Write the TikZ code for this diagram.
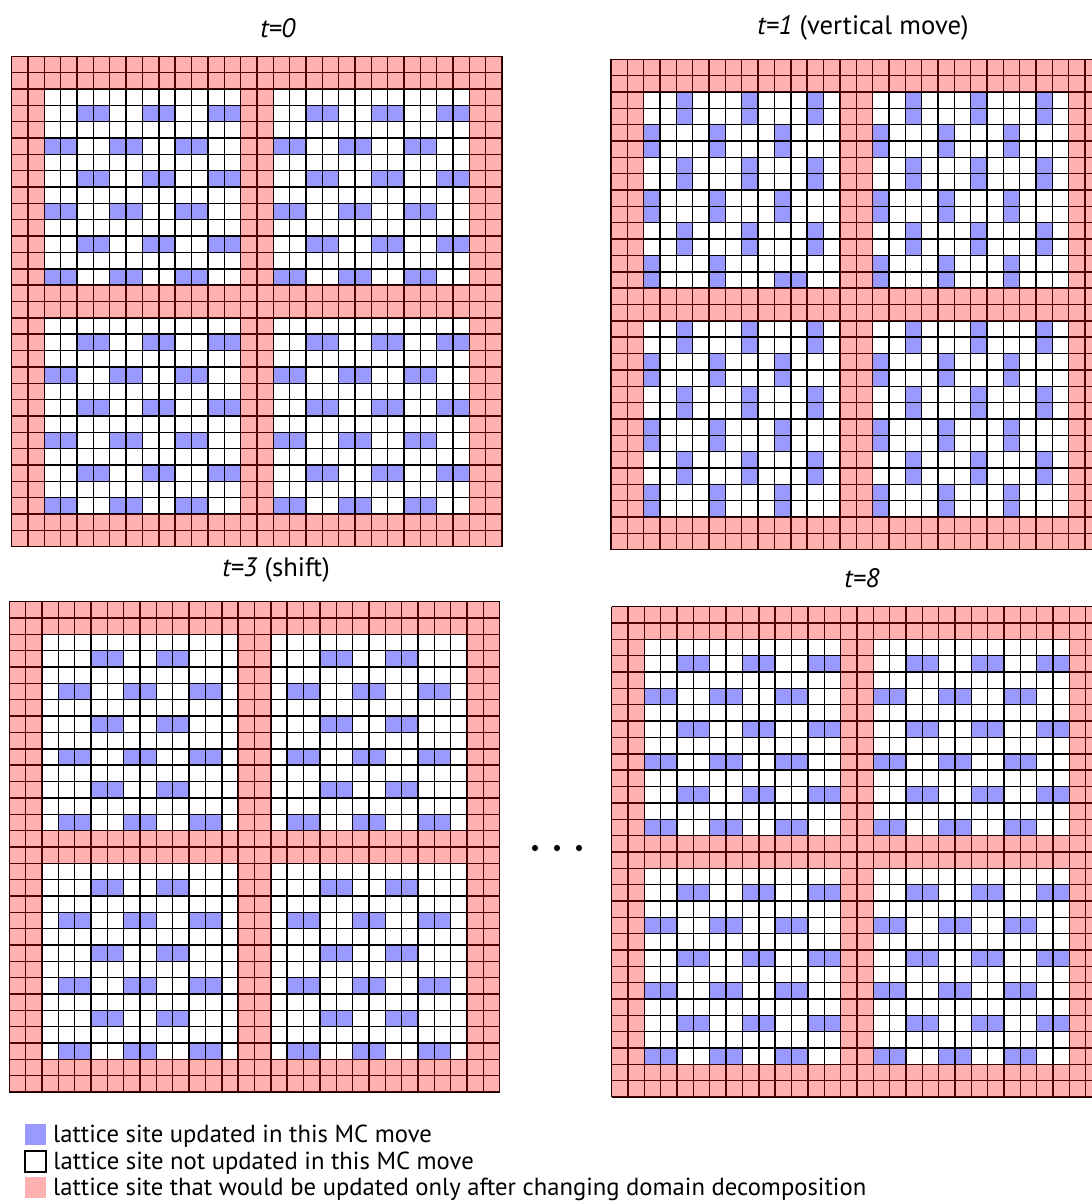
\documentclass[tikz,border=0pt]{standalone}
\usepackage{fontspec}
\setmainfont{PT Sans}
\usetikzlibrary{positioning}
\definecolor{sitebl}{RGB}{153,153,255}

\tikzset{
  site/.style={fill=sitebl},
  gridln/.style={black, line width=1.05pt},
  halo/.style={fill=red, fill opacity=0.31},
  title/.style={font=\fontsize{20}{24}\selectfont, inner sep=0pt},
  keybox/.style={minimum size=15.75pt, inner sep=0pt},
  keytext/.style={font=\fontsize{18.5}{22}\selectfont, inner sep=0pt, anchor=west},
}

% update patterns inside one domain (12x12 inner sites)
\newcommand{\horizmoves}{%
  \foreach \j in {1,5,9} \foreach \i in {2,6,10} \fill[site] (\i,\j) rectangle ++(2,1);
  \foreach \j in {3,7,11} \foreach \i in {0,4,8} \fill[site] (\i,\j) rectangle ++(2,1);}
\newcommand{\vertmoves}{%
  \foreach \j in {0,4,8} \foreach \i in {2,6,10} \fill[site] (\i,\j) rectangle ++(1,2);
  \foreach \j in {2,6,10} \foreach \i in {0,4,8} \fill[site] (\i,\j) rectangle ++(1,2);}
\newcommand{\shiftmoves}{%
  \foreach \j in {1,5,9} \foreach \i in {3,7} \fill[site] (\i,\j) rectangle ++(2,1);
  \foreach \j in {3,7,11} \foreach \i in {1,5,9} \fill[site] (\i,\j) rectangle ++(2,1);}

% 30x30 lattice, four domains; #1,#2 = top left corner, #3 = pattern, #4 = extra fills
\newcommand{\lattice}[4]{%
  \begin{scope}[shift={(#1,#2)}, x=12.26pt, y=-12.26pt]
    \fill[white] (0,0) rectangle (30,30);
    \foreach \dx in {2,16} \foreach \dy in {2,16} {
      \begin{scope}[shift={(\dx,\dy)}] #3 \end{scope}
    }
    #4
    \foreach \k in {0,...,30} {
      \draw[gridln] (\k,0) -- (\k,30);
      \draw[gridln] (0,\k) -- (30,\k);
    }
    % sites outside the domains
    \fill[halo, even odd rule] (0,0) rectangle (30,30)
      (2,2) rectangle (14,14) (16,2) rectangle (28,14)
      (2,16) rectangle (14,28) (16,16) rectangle (28,28);
  \end{scope}}

\begin{document}
\begin{tikzpicture}[x=0.75pt, y=-0.75pt]

\useasboundingbox (0,0) rectangle (1092,1203);
\clip (0,0) rectangle (1092,1203);

%% t=0
\node[title] (title0) at (278,28) {\textit{t=0}};
\lattice{11.7}{56.3}{\horizmoves}{}

%% t=1 (vertical move)
\node[title] (title1) at (863,28) {\textit{t=1} (vertical move)};
\lattice{611}{59.3}{\vertmoves}{%
  \fill[white] (10,12) rectangle ++(1,1);
  \fill[site] (11,13) rectangle ++(1,1);}

%% t=3 (shift)
\node[title] (title3) at (276,570) {\textit{t=3} (shift)};
\lattice{9.3}{601.7}{\shiftmoves}{}

%% t=8
\node[title] (title8) at (862,578) {\textit{t=8}};
\lattice{611.7}{606.7}{\horizmoves}{}

% dots between t=3 and t=8
\foreach \x in {535,557,579}
  \fill (\x,848) circle (3.1);

%% legend
\node[keybox, fill=sitebl] (keyupd) at (35.5,1134.5) {};
\node[keybox, fill=white, draw=black, line width=0.8pt] (keyfree) at (35.5,1161.5) {};
\node[keybox, halo] (keydom) at (35.5,1187.5) {};
\node[keytext, right=5pt of keyupd, yshift=-1.5] (txtupd) {lattice site updated in this MC move};
\node[keytext, right=5pt of keyfree, yshift=-1.5] (txtfree) {lattice site not updated in this MC move};
\node[keytext, right=5pt of keydom, yshift=-1.5] (txtdom) {lattice site that would be updated only after changing domain decomposition};

\end{tikzpicture}
\end{document}
